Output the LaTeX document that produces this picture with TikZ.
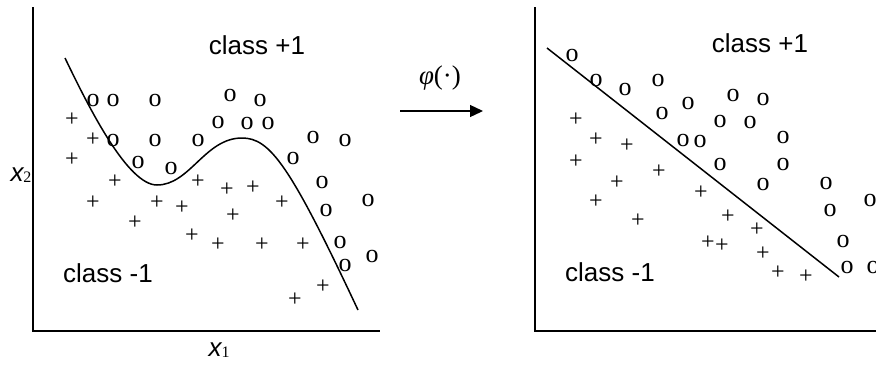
\documentclass[tikz,border=0pt]{standalone}
\usepackage{fontspec}
\setmainfont{Liberation Serif}
\newfontfamily\arialf{Liberation Sans}
\usetikzlibrary{arrows.meta}
\begin{document}
\begin{tikzpicture}[x=1pt,y=-1pt,
  lbl/.style={font=\arialf\fontsize{26}{30}\selectfont, inner sep=0pt},
  mko/.style={font=\fontsize{26}{30}\selectfont, inner sep=0pt},
  mkp/.style={font=\fontsize{24}{28}\selectfont, inner sep=0pt},
  axislabel/.style={font=\arialf\itshape\fontsize{26}{30}\selectfont, inner sep=0pt},
  axisline/.style={line width=1.8pt},
  bound/.style={line width=1.5pt},
  maparrow/.style={line width=1.3pt, -{Triangle[length=13pt,width=12pt]}}]
\useasboundingbox (0,0) rectangle (876,365);
% left axes
\coordinate (LT) at (33,7);
\coordinate (LO) at (33,331);
\coordinate (LR) at (380,331);
\draw[axisline] (LT) -- (LO) -- (LR);
% right axes
\coordinate (RT) at (535,7);
\coordinate (RO) at (535,331);
\coordinate (RR) at (876,331);
\draw[axisline] (RT) -- (RO) -- (RR);
% left boundary curve
\coordinate (c0) at (65,58);
\coordinate (c1) at (157,185);
\coordinate (c2) at (242,138);
\coordinate (c3) at (358,310);
\draw[bound] (c0) .. controls (90,110) and (128,185) .. (c1)
  .. controls (190,185) and (205,138) .. (c2)
  .. controls (270,138) and (290,165) .. (c3);
% right boundary line
\coordinate (d0) at (547,48);
\coordinate (d1) at (839,277);
\draw[bound] (d0) -- (d1);
% left markers
\foreach \x/\y [count=\i] in {93/100,113/100,155/100,230/95,260/100,218/122,247/123,268/123,
  113/140,155/140,198/140,313/137,345/140,138/162,171/168,293/158,322/182,368/200,326/210,
  340/242,372/256,345/265}
  \node[mko] (lo\i) at (\x,\y) {o};
\foreach \x/\y [count=\i] in {72/120,93/140,72/160,115/182,198/182,227/190,253/188,93/203,
  157/203,182/208,282/203,135/223,233/216,192/236,218/245,262/245,303/245,323/287,295/300}
  \node[mkp] (lp\i) at (\x,\y) {+};
% right markers
\foreach \x/\y [count=\i] in {572/55,596/80,625/89,658/80,688/103,733/95,763/99,662/113,
  720/121,750/122,683/140,700/141,783/137,720/164,783/164,763/184,826/183,830/210,870/200,
  843/241,847/267,873/267}
  \node[mko] (ro\i) at (\x,\y) {o};
\foreach \x/\y [count=\i] in {576/120,596/140,627/146,576/162,659/172,617/183,596/202,638/221,
  701/193,728/217,757/230,708/243,722/246,763/254,778/273,806/277}
  \node[mkp] (rp\i) at (\x,\y) {+};
% labels
\node[lbl] (lc1) at (257,45) {class +1};
\node[lbl] (lcm) at (108,273) {class -1};
\node[lbl] (rc1) at (760,43) {class +1};
\node[lbl] (rcm) at (610,272) {class -1};
\node[axislabel] (xtwo) at (21,175) {x\raisebox{-1.5pt}{\upshape\rmfamily\fontsize{16}{18}\selectfont 2}};
\node[axislabel] (xone) at (219,350) {x\raisebox{-1.5pt}{\upshape\rmfamily\fontsize{16}{18}\selectfont 1}};
% mapping arrow
\node[inner sep=0pt, font=\fontsize{27}{32}\selectfont] (phi) at (440,78) {\itshape φ\upshape(·)};
\coordinate (a0) at (400,111);
\coordinate (a1) at (483,111);
\draw[maparrow] (a0) -- (a1);
\end{tikzpicture}
\end{document}
